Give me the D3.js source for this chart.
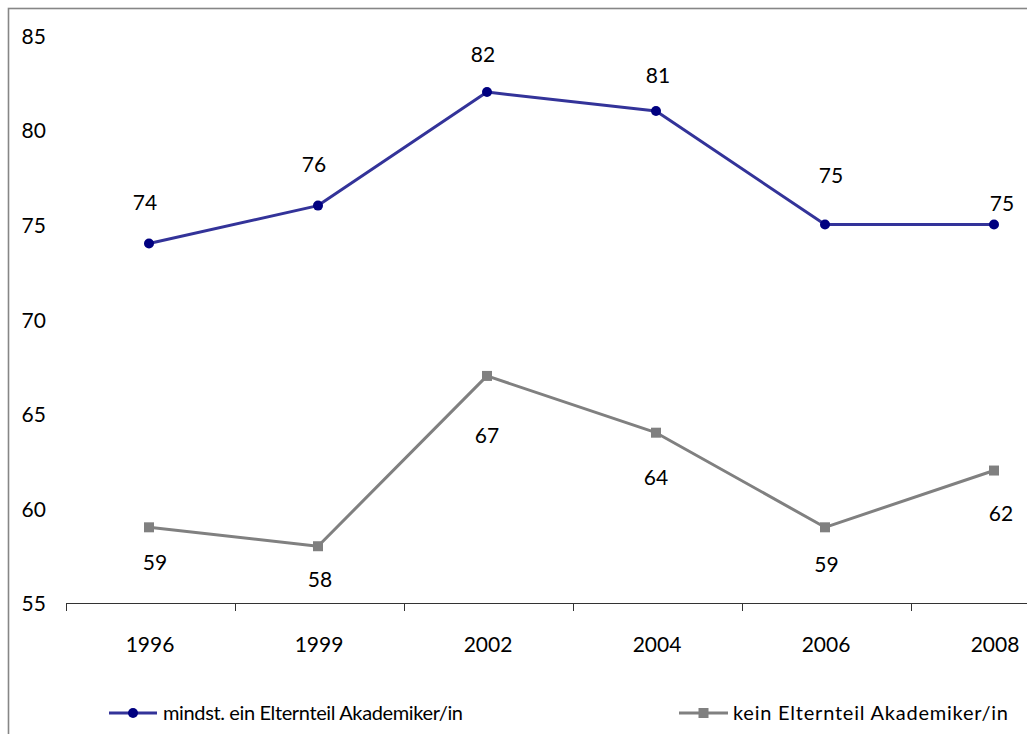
<!DOCTYPE html>
<html>
<head>
<meta charset="utf-8">
<script src="https://cdn.jsdelivr.net/npm/d3@7/dist/d3.min.js"></script>
<style>
  html, body { margin: 0; padding: 0; background: #fff; }
  svg { display: block; }
  text { font-family: Lato, "Open Sans", "Liberation Sans", sans-serif; fill: #000; }
</style>
</head>
<body>
<svg id="chart" width="1027" height="734"></svg>
<script>
// ---- data ----
const years = ["1996", "1999", "2002", "2004", "2006", "2008"];
const seriesAcademic = [74, 76, 82, 81, 75, 75];
const seriesNonAcademic = [59, 58, 67, 64, 59, 62];
const yTickValues = [55, 60, 65, 70, 75, 80, 85];
const seriesNames = ["mindst. ein Elternteil Akademiker/in", "kein Elternteil Akademiker/in"];

// ---- label placement (pixel offsets from each point, as in the original) ----
const labelOffsetsAcademic = [[-4, -41], [-4, -41], [-4, -37], [2, -35], [6, -49], [8, -21]];
const labelOffsetsNonAcademic = [[6, 35], [2, 33], [0, 60], [0, 45], [1.5, 37], [7, 43]];

const FS = 21;
const svg = d3.select("#chart");

// frame
svg.append("rect")
  .attr("x", 8.5).attr("y", 8.5)
  .attr("width", 1040).attr("height", 760)
  .attr("fill", "none").attr("stroke", "#868686").attr("stroke-width", 1.6);

const x = d3.scaleBand().domain(years).range([66, 66 + 6 * 169]).padding(0);
const y = d3.scaleLinear().domain([55, 85]).range([603, 35.3]);
const cx = d => x(d) + x.bandwidth() / 2 - 1.5;

// y labels (no axis line)
svg.append("g").selectAll("text")
  .data(yTickValues).join("text")
  .attr("x", 21.5).attr("y", d => y(d) + 1)
  .attr("dy", "0.35em")
  .attr("text-anchor", "start")
  .attr("font-size", FS)
  .text(d => d);

// x axis
const xAxis = svg.append("g").attr("transform", "translate(0,603)");
xAxis.append("line")
  .attr("x1", 66).attr("x2", 1080).attr("y1", 0.5).attr("y2", 0.5)
  .attr("stroke", "#333").attr("stroke-width", 1);
xAxis.selectAll("line.tick")
  .data(years).join("line").attr("class", "tick")
  .attr("x1", d => Math.round(x(d)) + 0.5).attr("x2", d => Math.round(x(d)) + 0.5)
  .attr("y1", 0).attr("y2", 8)
  .attr("stroke", "#333").attr("stroke-width", 1);
xAxis.selectAll("text")
  .data(years).join("text")
  .attr("x", d => cx(d) + 1).attr("y", 42)
  .attr("dy", "0.35em")
  .attr("text-anchor", "middle")
  .attr("font-size", FS)
  .text(d => d);

const line = d3.line().x((d, i) => cx(years[i])).y(d => y(d));

function drawSeries(values, offsets, lineColor, markerColor, marker) {
  const g = svg.append("g");
  g.append("path").datum(values)
    .attr("d", line).attr("fill", "none")
    .attr("stroke", lineColor).attr("stroke-width", 3).attr("stroke-linejoin", "round");
  if (marker === "circle") {
    g.selectAll("circle").data(values).join("circle")
      .attr("cx", (d, i) => cx(years[i])).attr("cy", d => y(d))
      .attr("r", 5).attr("fill", markerColor);
  } else {
    g.selectAll("rect").data(values).join("rect")
      .attr("x", (d, i) => cx(years[i]) - 5).attr("y", d => y(d) - 5)
      .attr("width", 10).attr("height", 10).attr("fill", markerColor);
  }
  g.selectAll("text").data(values).join("text")
    .attr("x", (d, i) => cx(years[i]) + offsets[i][0])
    .attr("y", (d, i) => y(d) + offsets[i][1])
    .attr("dy", "0.35em")
    .attr("text-anchor", "middle")
    .attr("font-size", FS)
    .text(d => d);
}

drawSeries(seriesAcademic, labelOffsetsAcademic, "#333399", "#000080", "circle");
drawSeries(seriesNonAcademic, labelOffsetsNonAcademic, "#808080", "#808080", "square");

// legend
const legendItems = [
  { name: seriesNames[0], x1: 109, x2: 157, color: "#333399", mcolor: "#000080", marker: "circle", tx: 163, tlen: 300 },
  { name: seriesNames[1], x1: 679, x2: 728, color: "#808080", mcolor: "#808080", marker: "square", tx: 733, tlen: 275 }
];
const lg = svg.append("g");
legendItems.forEach(it => {
  const ly = 713;
  lg.append("line").attr("x1", it.x1).attr("x2", it.x2).attr("y1", ly).attr("y2", ly)
    .attr("stroke", it.color).attr("stroke-width", 3);
  const mx = (it.x1 + it.x2) / 2;
  if (it.marker === "circle") {
    lg.append("circle").attr("cx", mx).attr("cy", ly).attr("r", 5).attr("fill", it.mcolor);
  } else {
    lg.append("rect").attr("x", mx - 5).attr("y", ly - 5).attr("width", 10).attr("height", 10).attr("fill", it.mcolor);
  }
  lg.append("text").attr("x", it.tx).attr("y", ly).attr("dy", "0.35em")
    .attr("font-size", 20)
    .attr("textLength", it.tlen).attr("lengthAdjust", "spacing")
    .text(it.name);
});
</script>
</body>
</html>
